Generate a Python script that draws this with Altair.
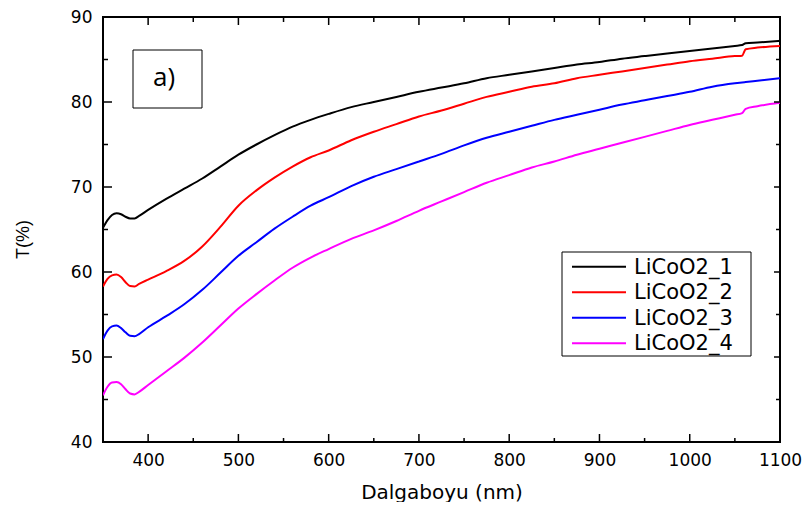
import altair as alt
import pandas as pd

# ---------------- data ----------------
wavelength = [350, 355, 360, 365, 370, 375, 380, 385, 390,
              400, 420, 440, 460, 480,
              500, 520, 540, 560, 580,
              600, 625, 650, 675,
              700, 725, 750, 775,
              800, 825, 850, 875,
              900, 925, 950, 975,
              1000, 1025, 1050,
              1058, 1062, 1075, 1100]

licoo2_1 = [65.2, 66.1, 66.7, 66.9, 66.8, 66.5, 66.3, 66.3, 66.6,
            67.3, 68.6, 69.8, 71.0, 72.4,
            73.8, 75.0, 76.1, 77.1, 77.9,
            78.6, 79.4, 80.0, 80.6,
            81.2, 81.7, 82.2, 82.8,
            83.2, 83.6, 84.0, 84.4,
            84.7, 85.1, 85.4, 85.7,
            86.0, 86.3, 86.6,
            86.7, 86.9, 87.0, 87.2]

licoo2_2 = [58.3, 59.2, 59.6, 59.7, 59.4, 58.8, 58.35, 58.3, 58.6,
            59.1, 60.1, 61.3, 63.0, 65.3,
            67.8, 69.6, 71.1, 72.4, 73.5,
            74.3, 75.5, 76.5, 77.4,
            78.3, 79.0, 79.8, 80.6,
            81.2, 81.8, 82.2, 82.8,
            83.2, 83.6, 84.0, 84.4,
            84.8, 85.1, 85.4,
            85.45, 86.2, 86.4, 86.6]

licoo2_3 = [52.1, 53.1, 53.6, 53.7, 53.4, 52.9, 52.5, 52.45, 52.7,
            53.5, 54.8, 56.2, 57.9, 59.9,
            61.9, 63.5, 65.1, 66.5, 67.8,
            68.8, 70.1, 71.2, 72.1,
            73.0, 73.9, 74.9, 75.8,
            76.5, 77.2, 77.9, 78.5,
            79.1, 79.7, 80.2, 80.7,
            81.2, 81.8, 82.2,
            82.3, 82.35, 82.5, 82.8]

licoo2_4 = [45.5, 46.5, 47.0, 47.05, 46.8, 46.2, 45.7, 45.6, 45.9,
            46.7, 48.3, 49.9, 51.7, 53.7,
            55.7, 57.4, 59.0, 60.5, 61.7,
            62.7, 63.9, 64.9, 66.0,
            67.2, 68.3, 69.4, 70.5,
            71.4, 72.3, 73.0, 73.8,
            74.5, 75.2, 75.9, 76.6,
            77.3, 77.9, 78.5,
            78.7, 79.2, 79.5, 79.9]

series_names = ["LiCoO2_1", "LiCoO2_2", "LiCoO2_3", "LiCoO2_4"]
series_colors = ["#000000", "#ff0000", "#0000ff", "#ff00ff"]

x_labels = [400, 500, 600, 700, 800, 900, 1000, 1100]
y_labels = [40, 50, 60, 70, 80, 90]
x_major_ticks = [400, 500, 600, 700, 800, 900, 1000]
x_minor_ticks = [450, 550, 650, 750, 850, 950, 1050]
y_major_ticks = [50, 60, 70, 80]
y_minor_ticks = [45, 55, 65, 75, 85]

# ---------------- build tables ----------------
rows = []
for name, vals in zip(series_names, [licoo2_1, licoo2_2, licoo2_3, licoo2_4]):
    for w, t in zip(wavelength, vals):
        rows.append({"wl": w, "T": t, "series": name})
df = pd.DataFrame(rows)

W, H = 677, 425
FONT = "DejaVu Sans"

x_scale = alt.Scale(domain=[350, 1100], nice=False, zero=False)
y_scale = alt.Scale(domain=[40, 90], nice=False, zero=False)

x_axis = alt.Axis(values=x_labels, format="d", title="Dalgaboyu (nm)", ticks=False,
                  domain=False, grid=False, labelFontSize=17, labelFont=FONT,
                  labelColor="black", labelPadding=10, labelFlush=False, titleFont=FONT,
                  titleFontSize=20, titleFontWeight="normal", titleColor="black", titleY=50,
                  titleBaseline="middle")
y_axis = alt.Axis(values=y_labels, format="d", title="T(%)", ticks=False, domain=False,
                  grid=False, labelFontSize=17, labelFont=FONT, labelColor="black",
                  labelPadding=11, labelFlush=False, titleFont="Liberation Sans",
                  titleFontSize=18, titleFontWeight="normal", titleColor="black",
                  titleX=-80, titleY=222, titleBaseline="middle", titleAlign="center")

lines = alt.Chart(df).mark_line(strokeWidth=2, interpolate="monotone", clip=True).encode(
    x=alt.X("wl:Q", scale=x_scale, axis=x_axis),
    y=alt.Y("T:Q", scale=y_scale, axis=y_axis),
    color=alt.Color("series:N", scale=alt.Scale(domain=series_names, range=series_colors),
                    legend=None),
)

def xticks(vals, length, at_bottom):
    d = pd.DataFrame({"wl": vals})
    y0 = H if at_bottom else 0
    y1 = H - length if at_bottom else length
    return alt.Chart(d).mark_rule(color="black", strokeWidth=1.5).encode(
        x=alt.X("wl:Q", scale=x_scale, axis=x_axis),
        y=alt.value(y0), y2=alt.value(y1))

def yticks(vals, length, at_left):
    d = pd.DataFrame({"T": vals})
    x0 = 0 if at_left else W
    x1 = length if at_left else W - length
    return alt.Chart(d).mark_rule(color="black", strokeWidth=1.5).encode(
        y=alt.Y("T:Q", scale=y_scale, axis=y_axis),
        x=alt.value(x0), x2=alt.value(x1))

tick_layers = [
    xticks(x_major_ticks, 8, True), xticks(x_minor_ticks, 4, True),
    xticks(x_major_ticks, 8, False), xticks(x_minor_ticks, 5, False),
    yticks(y_major_ticks, 9, True), yticks(y_minor_ticks, 5, True),
    yticks(y_major_ticks, 6, False), yticks(y_minor_ticks, 4, False),
]

one = pd.DataFrame({"k": [0]})

# "a)" annotation box
a_box = alt.Chart(one).mark_rect(fill="white", stroke="black", strokeWidth=1).encode(
    x=alt.value(30), x2=alt.value(99), y=alt.value(33), y2=alt.value(91))
a_text = alt.Chart(one).mark_text(text="a)", font="Open Sans", fontSize=26, color="black",
                                  align="center", baseline="middle").encode(
    x=alt.value(61), y=alt.value(61))

# legend (drawn manually)
leg_box = alt.Chart(one).mark_rect(fill="white", stroke="black", strokeWidth=1).encode(
    x=alt.value(459), x2=alt.value(648), y=alt.value(235), y2=alt.value(339))
legend_layers = [leg_box]
for i, (name, col) in enumerate(zip(series_names, series_colors)):
    yy = 249.7 + 25.5 * i
    legend_layers.append(alt.Chart(one).mark_rule(color=col, strokeWidth=2).encode(
        x=alt.value(469), x2=alt.value(523), y=alt.value(yy)))
    legend_layers.append(alt.Chart(one).mark_text(text=name, font=FONT, fontSize=21,
                                                  color="black", align="left",
                                                  baseline="middle").encode(
        x=alt.value(531), y=alt.value(yy + 1)))

chart = alt.layer(lines, *tick_layers, a_box, a_text, *legend_layers).properties(
    width=W, height=H,
    autosize=alt.AutoSizeParams(type="none"),
    padding={"left": 95, "top": 9, "right": 22, "bottom": 60},
    background="white",
).configure_view(stroke="black", strokeWidth=2)

chart.save("out.html", embed_options={"renderer": "svg", "actions": False})
